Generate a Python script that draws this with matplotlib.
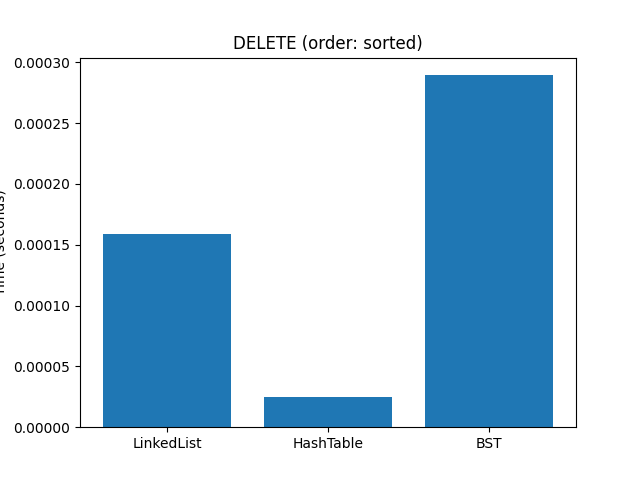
import matplotlib
matplotlib.use("Agg")
import matplotlib.pyplot as plt

# Structures and measured delete times (seconds), sorted insertion order.
structures = ["LinkedList", "HashTable", "BST"]
times = [0.0001586, 0.0000247, 0.0002893]

fig, ax = plt.subplots(figsize=(6.4, 4.8), dpi=100)
ax.bar(structures, times)
ax.set_title("DELETE (order: sorted)")
ax.set_ylabel("Time (seconds)")

fig.savefig("out.png")
